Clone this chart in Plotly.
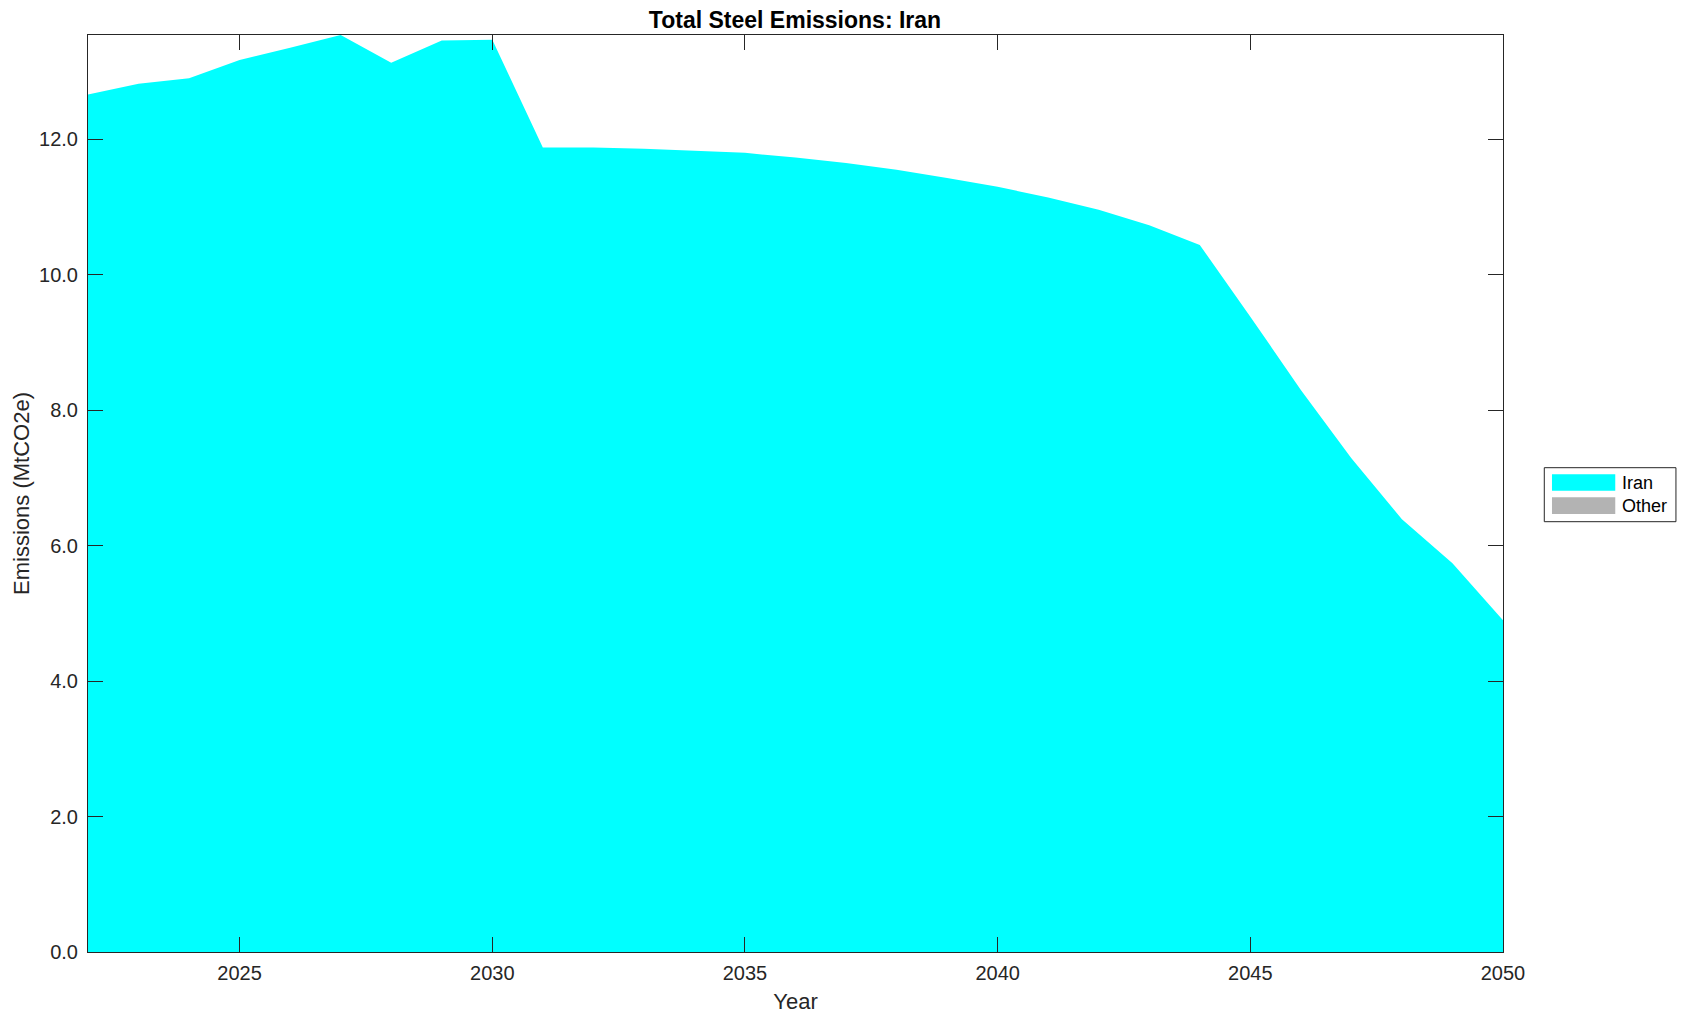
import plotly.graph_objects as go

years = list(range(2022, 2051))
iran = [12.66, 12.82, 12.90, 13.17, 13.35, 13.54, 13.13, 13.46, 13.47, 11.88,
        11.88, 11.86, 11.83, 11.80, 11.73, 11.65, 11.55, 11.43, 11.30, 11.14,
        10.96, 10.73, 10.44, 9.38, 8.30, 7.29, 6.39, 5.74, 4.90]
other = [0.0] * len(years)

series_names = ["Iran", "Other"]
series_colors = ["#00FFFF", "#B3B3B3"]

y_ticks = [0, 2, 4, 6, 8, 10, 12]
x_ticks = [2025, 2030, 2035, 2040, 2045, 2050]

FONT = "Liberation Sans, Arial, Helvetica, sans-serif"
AX = "#262626"

# page offset (body margin) compensation
OFF = 8
W, H = 1687 - OFF, 1021 - OFF
L, R, T, B = 87.5, 1503, 35, 952  # plot area in window pixels


def px(X):
    return (X - L) / (R - L)


def py(Y):
    return (B - Y) / (B - T)


fig = go.Figure()
for name, vals, col in zip(series_names, [iran, other], series_colors):
    fig.add_trace(go.Scatter(x=years, y=vals, name=name, stackgroup="s",
                             mode="none", fillcolor=col, line=dict(width=0),
                             showlegend=False))

shapes = [dict(type="rect", xref="paper", yref="paper",
               x0=px(1544.3), x1=px(1676), y0=py(521.7), y1=py(467.7),
               line=dict(color=AX, width=1), fillcolor="white")]
annotations = []
sw_rows = [(474.3, 490.7), (497.3, 514.0)]
for (y0, y1), name, col in zip(sw_rows, series_names, series_colors):
    shapes.append(dict(type="rect", xref="paper", yref="paper",
                       x0=px(1552), x1=px(1615.3), y0=py(y1), y1=py(y0),
                       line=dict(width=0), fillcolor=col))
    annotations.append(dict(text=name, xref="paper", yref="paper",
                            x=px(1620.5), y=py((y0 + y1) / 2 + 0.5),
                            xanchor="left", yanchor="middle", showarrow=False,
                            font=dict(family=FONT, size=18, color="black")))

fig.update_layout(
    width=W, height=H, autosize=False,
    margin=dict(l=L - OFF, r=1687 - R, t=T - OFF, b=1021 - B),
    paper_bgcolor="white", plot_bgcolor="white",
    font=dict(family=FONT, size=20, color=AX),
    title=dict(text="Total Steel Emissions: Iran", x=(795 - OFF) / W, xanchor="center",
               y=1 - (20 - OFF) / H, yanchor="middle",
               font=dict(family=FONT, size=23, color="black", weight="bold")),
    showlegend=False,
    shapes=shapes,
    annotations=annotations,
)
fig.update_xaxes(range=[2022, 2050], tickvals=x_ticks, ticks="inside", ticklen=15,
                 tickcolor=AX, showline=True, linecolor=AX, linewidth=1, mirror="ticks",
                 showgrid=False, zeroline=False, automargin=False,
                 title=dict(text="Year", font=dict(size=22, color=AX), standoff=10),
                 tickfont=dict(size=20, color=AX), ticklabelstandoff=3)
fig.update_yaxes(range=[0, 13.54], tickvals=y_ticks, tickformat=".1f", ticks="inside",
                 ticklen=15, tickcolor=AX, showline=True, linecolor=AX, linewidth=1,
                 mirror="ticks", showgrid=False, zeroline=False, automargin=False,
                 title=dict(text="Emissions (MtCO2e)", font=dict(size=22, color=AX), standoff=3),
                 tickfont=dict(size=20, color=AX), ticklabelstandoff=5)

fig.write_html("out.html")
